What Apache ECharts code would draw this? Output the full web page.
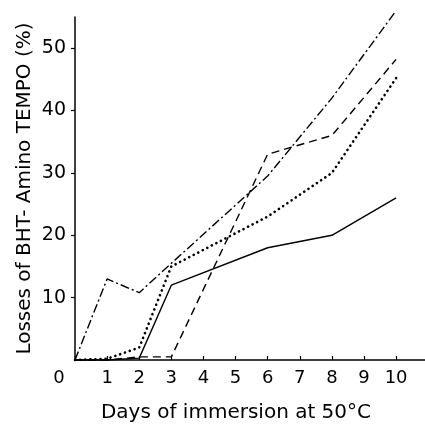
<!DOCTYPE html>
<html lang="en">
<head>
    <meta charset="utf-8">
    <title>BHT-Amino TEMPO losses</title>
    <script src="https://cdn.jsdelivr.net/npm/echarts@6/dist/echarts.min.js"></script>
    <style>
        html, body { margin: 0; padding: 0; background: #fff; }
    </style>
</head>
<body>
<div id="main" style="width: 425px;height:424px;"></div>
<script type="text/javascript">
    // days on which losses were measured
    var days = [0, 1, 2, 3, 6, 8, 10];
    // losses (%), one array per curve
    var solid   = [0, 0, 0.3, 12, 18, 20, 26];
    var dashed  = [0, 0, 0.5, 0.5, 33, 36, 48.2];
    var dotted  = [0, 0.2, 2, 15, 23, 30, 45.2];
    var dashDot = [0, 13, 10.8, 15.5, 29.5, 42, 56];

    function pairs(ys) {
        return days.map(function (d, i) { return [d, ys[i]]; });
    }

    var font = 'DejaVu Sans';
    var myChart = echarts.init(document.getElementById('main'));

    function line(name, ys, type, width, cap) {
        return {
            name: name,
            type: 'line',
            data: pairs(ys),
            symbol: 'none',
            silent: true,
            clip: false,
            lineStyle: { color: '#000', width: width, type: type, cap: cap || 'butt' }
        };
    }

    myChart.setOption({
        animation: false,
        grid: { left: 75, right: 0, top: 17, bottom: 64, outerBoundsMode: 'none' },
        xAxis: {
            type: 'value',
            min: 0,
            max: 10.9,
            interval: 1,
            name: 'Days of immersion at 50°C',
            nameLocation: 'middle',
            nameGap: 43,
            nameMoveOverlap: false,
            nameTextStyle: { fontFamily: font, fontSize: 20, color: '#000', padding: [0, 28, 0, 0] },
            axisLine: { lineStyle: { color: '#000', width: 1.5 } },
            axisTick: { inside: true, length: 4, lineStyle: { color: '#000', width: 1.2 } },
            splitLine: { show: false },
            axisLabel: {
                showMaxLabel: false,
                fontFamily: font, fontSize: 18, color: '#000', margin: 9,
                formatter: function (v) { return v === 0 ? '{z|0}' : v; },
                rich: { z: { fontFamily: font, fontSize: 18, color: '#000', padding: [0, 32, 0, 0] } }
            }
        },
        yAxis: {
            type: 'value',
            min: 0,
            max: 55,
            interval: 10,
            name: 'Losses of BHT- Amino TEMPO (%)',
            nameLocation: 'middle',
            nameGap: 40,
            nameMoveOverlap: false,
            nameTextStyle: { fontFamily: font, fontSize: 20, color: '#000' },
            axisLine: { show: true, lineStyle: { color: '#000', width: 1.5 } },
            axisTick: { show: true, length: 4, lineStyle: { color: '#000', width: 1.2 } },
            splitLine: { show: false },
            axisLabel: {
                showMinLabel: false,
                showMaxLabel: false,
                fontFamily: font, fontSize: 19, color: '#000', margin: 9
            }
        },
        series: [
            line('solid', solid, 'solid', 1.4),
            line('dashed', dashed, [8, 5], 1.4),
            line('dotted', dotted, [0.1, 5], 2.6, 'round'),
            line('dash-dot', dashDot, [9, 3, 2, 3], 1.4)
        ]
    });
</script>
</body>
</html>
